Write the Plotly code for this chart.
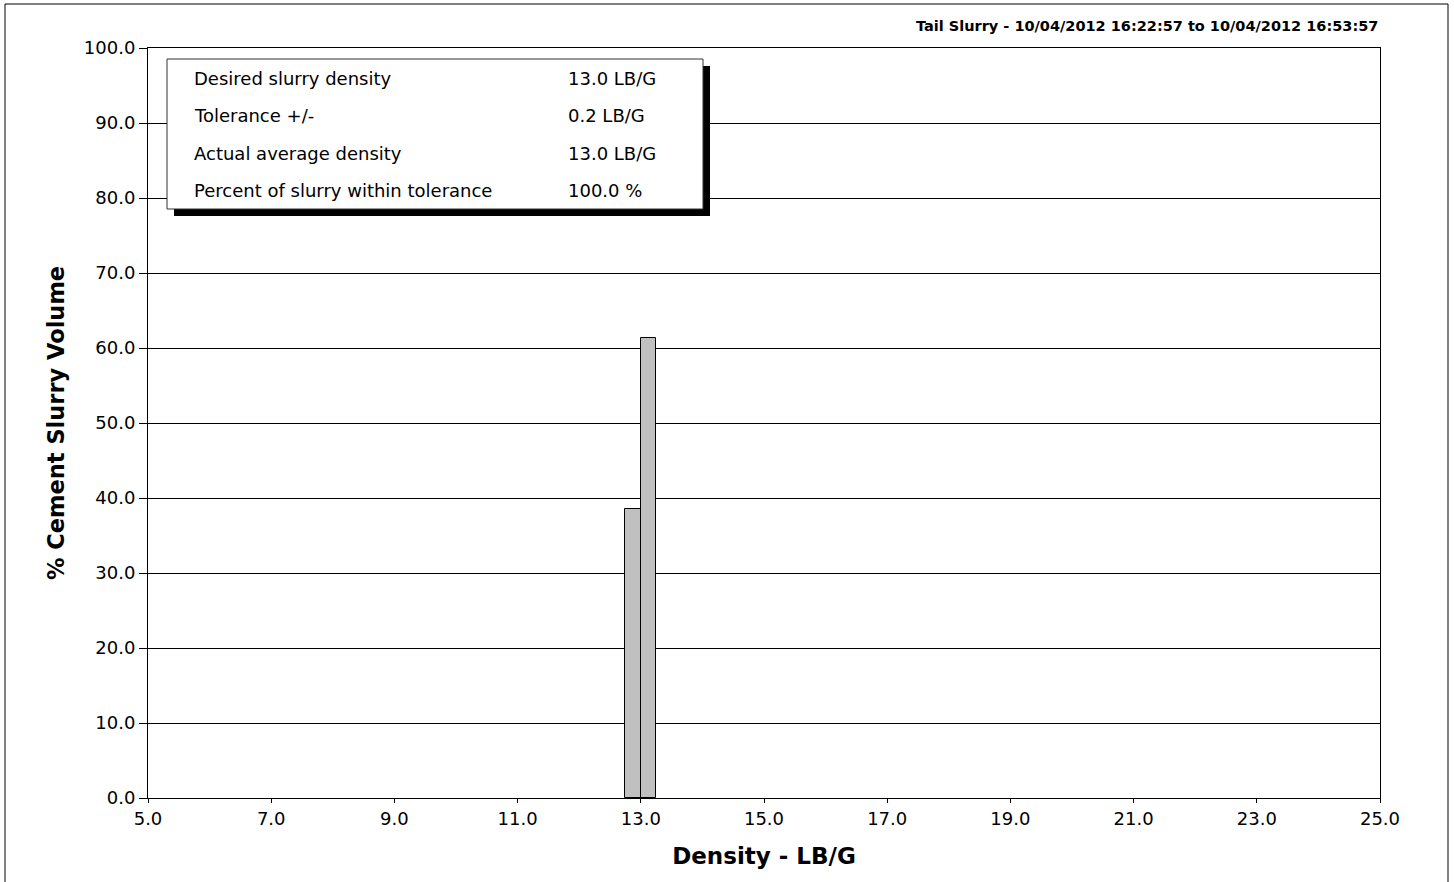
import plotly.graph_objects as go

# Data
bin_centers = [12.875, 13.125]
bin_width = 0.25
volume_pct = [38.6, 61.4]

info_labels = ["Desired slurry density", "Tolerance +/-", "Actual average density",
               "Percent of slurry within tolerance"]
info_values = ["13.0 LB/G", "0.2 LB/G", "13.0 LB/G", "100.0 %"]

title_text = "Tail Slurry - 10/04/2012 16:22:57 to 10/04/2012 16:53:57"
x_ticks = [5, 7, 9, 11, 13, 15, 17, 19, 21, 23, 25]
y_ticks = [0, 10, 20, 30, 40, 50, 60, 70, 80, 90, 100]

W, H = 1454, 882
L, R, T, B = 148, 1380, 48, 798
FONT = "DejaVu Sans, Verdana, sans-serif"


def px(x):
    return (x - L) / (R - L)


def py(y):
    return (B - y) / (B - T)


fig = go.Figure()
fig.add_trace(go.Bar(
    x=bin_centers, y=volume_pct, width=[bin_width] * len(bin_centers),
    marker=dict(color="#c0c0c0", line=dict(color="black", width=1)),
    showlegend=False, hoverinfo="x+y",
))

shapes = [
    # outer border
    dict(type="rect", xref="paper", yref="paper", x0=px(5), x1=px(1448), y0=py(4), y1=py(900),
         line=dict(color="black", width=1), fillcolor="rgba(0,0,0,0)", layer="below"),
    # legend shadow
    dict(type="rect", xref="paper", yref="paper", x0=px(174), x1=px(710), y0=py(66), y1=py(216),
         line=dict(width=0), fillcolor="black", layer="above"),
    # legend box
    dict(type="rect", xref="paper", yref="paper", x0=px(167), x1=px(703), y0=py(59), y1=py(209),
         line=dict(color="#333", width=1), fillcolor="white", layer="above"),
]

annotations = []
row_y = [78, 115, 153, 190]
for lab, val, yy in zip(info_labels, info_values, row_y):
    annotations.append(dict(text=lab, xref="paper", yref="paper", x=px(192), y=py(yy),
                            xanchor="left", yanchor="middle", showarrow=False,
                            font=dict(family=FONT, size=18, color="black")))
    annotations.append(dict(text=val, xref="paper", yref="paper", x=px(566), y=py(yy),
                            xanchor="left", yanchor="middle", showarrow=False,
                            font=dict(family=FONT, size=18, color="black")))
annotations.append(dict(text="<b>" + title_text + "</b>", xref="paper", yref="paper",
                        x=1, y=py(26), xanchor="right", yanchor="middle", showarrow=False,
                        font=dict(family=FONT, size=14.5, color="black")))

fig.update_layout(
    width=W, height=H,
    margin=dict(l=L, r=W - R, t=T, b=H - B, pad=0),
    paper_bgcolor="white", plot_bgcolor="white",
    font=dict(family=FONT, color="black"),
    bargap=0,
    shapes=shapes,
    annotations=annotations,
    xaxis=dict(range=[5, 25], tickvals=x_ticks, ticktext=[f"{v:.1f}" for v in x_ticks],
               showgrid=False, zeroline=False, showline=True, linecolor="black", linewidth=1,
               mirror=True, ticks="outside", ticklen=4, tickcolor="black",
               tickfont=dict(family=FONT, size=18),
               title=dict(text="<b>Density - LB/G</b>", font=dict(family=FONT, size=23), standoff=20)),
    yaxis=dict(range=[0, 100], tickvals=y_ticks, ticktext=[f"{v:.1f}" for v in y_ticks],
               showgrid=True, gridcolor="black", gridwidth=1, zeroline=False,
               showline=True, linecolor="black", linewidth=1, mirror=True,
               ticks="outside", ticklen=8, tickcolor="black",
               tickfont=dict(family=FONT, size=18),
               title=dict(text="<b>% Cement Slurry Volume</b>", font=dict(family=FONT, size=22.5), standoff=12)),
)

fig.write_html("out.html", config={"displayModeBar": False},
               post_script="document.body.style.margin='0px';")
